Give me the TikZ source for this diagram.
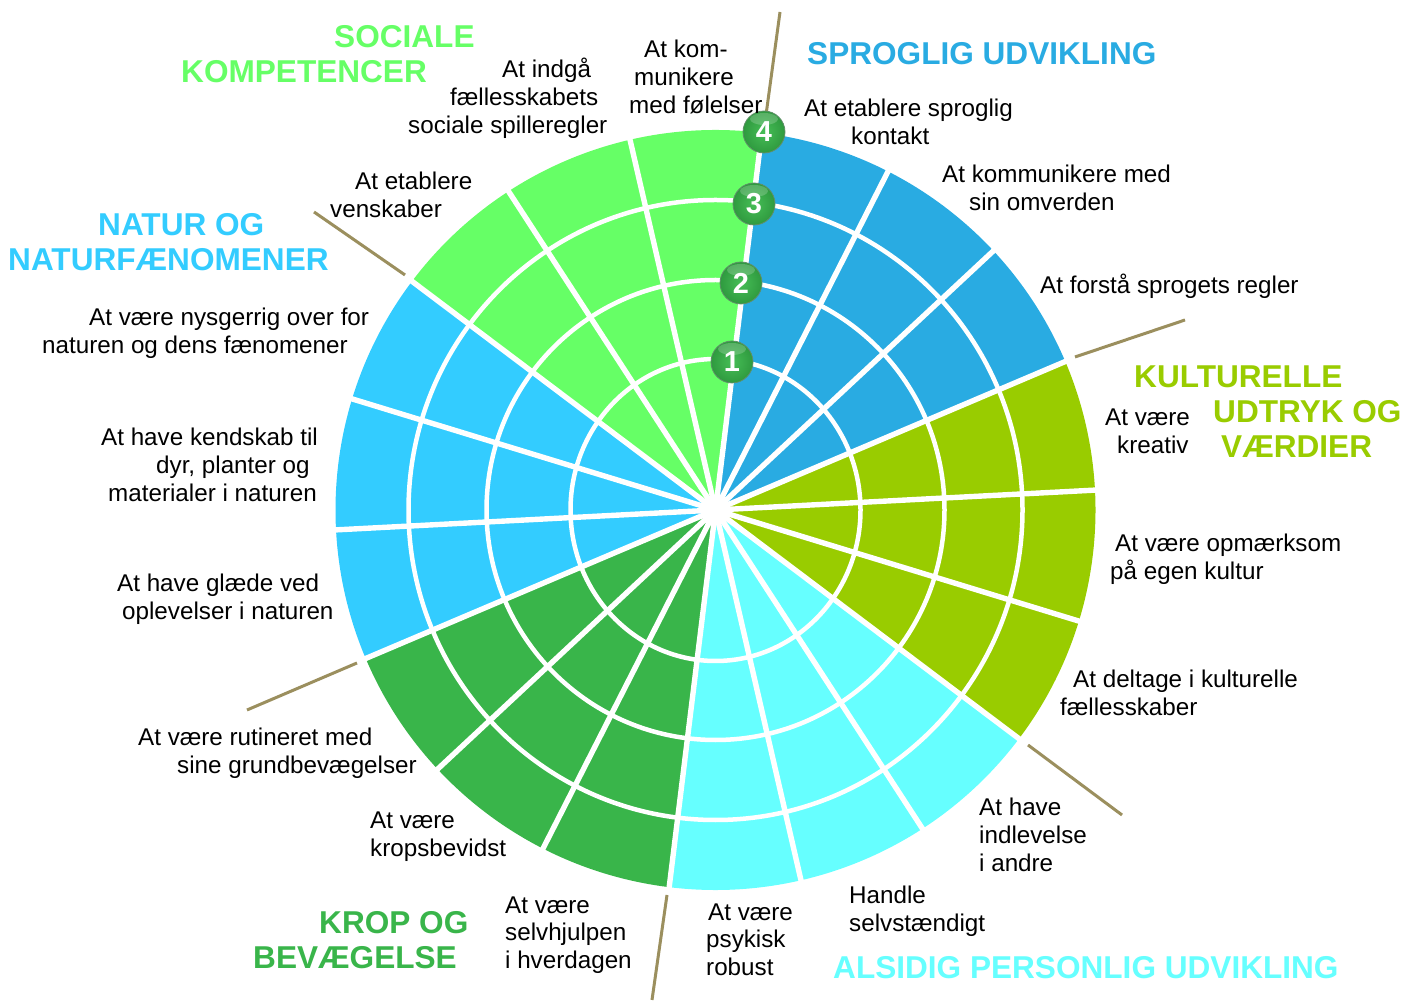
\documentclass[tikz,border=0pt]{standalone}
\usepackage{fontspec}
\setmainfont{Liberation Sans}
\definecolor{cblue}{HTML}{29ABE2}
\definecolor{colive}{HTML}{99CC00}
\definecolor{ccyan}{HTML}{66FFFF}
\definecolor{cdark}{HTML}{39B54A}
\definecolor{csky}{HTML}{33CCFF}
\definecolor{clight}{HTML}{66FF66}
\definecolor{ctick}{HTML}{9B8F5E}
\definecolor{ballmid}{HTML}{46BE56}
\definecolor{ballrim}{HTML}{2F9A3F}
\definecolor{balledge}{HTML}{5F8F68}
\newcommand{\I}[1]{\hspace*{#1bp}}
\newcommand{\wedgepart}[3]{\fill[#1] (0,0) -- (#2:380) arc[start angle=#2,end angle=#3,radius=380] -- cycle;}
\tikzset{
  lab/.style={anchor=base west,inner sep=0pt,align=left,text=black,font=\fontsize{24.3}{28.1}\selectfont},
  head/.style={anchor=base west,inner sep=0pt,align=left,font=\fontsize{31.7}{35.3}\selectfont\bfseries},
  spoke/.style={draw=white,line width=5.4bp},
  ring/.style={draw=white,line width=4.5bp},
  tick/.style={draw=ctick,line width=3bp},
  ball/.style={circle,minimum size=42bp,inner sep=0pt,text=white,font=\fontsize{29}{29}\selectfont\bfseries,
    inner color=ballmid,outer color=ballrim,draw=balledge,line width=.8bp,
    path picture={\fill[white,opacity=.2] ([yshift=-8bp]path picture bounding box.north) ellipse[x radius=14bp,y radius=6bp];}},
}
\begin{document}
\begin{tikzpicture}[x=1bp,y=1bp]
\useasboundingbox (0,0) rectangle (1418,1001);
\begin{scope}[shift={(715.5,491)}]
  \wedgepart{cblue}{83}{23}
  \wedgepart{colive}{23}{-37}
  \wedgepart{ccyan}{-37}{-97}
  \wedgepart{cdark}{-97}{-157}
  \wedgepart{csky}{-157}{-217}
  \wedgepart{clight}{-217}{-277}
  \foreach \rx/\ry in {145/151,229/230,307/310} \draw[ring] (0,0) ellipse[x radius=\rx,y radius=\ry];
  \foreach \a in {83,63,...,-257}
    \draw[spoke] (0,0) -- (\a:383);
  \fill[white] (0,0) circle[radius=15];
\end{scope}
\begin{scope}[y=-1bp,yshift=1001bp]
  \coordinate (t1a) at (780,12);  \coordinate (t1b) at (766,115);
  \coordinate (t2a) at (1185,320);\coordinate (t2b) at (1075,357);
  \coordinate (t3a) at (1122,815);\coordinate (t3b) at (1028,745);
  \coordinate (t4a) at (652,1000);\coordinate (t4b) at (667,895);
  \coordinate (t5a) at (247,710); \coordinate (t5b) at (357,663);
  \coordinate (t6a) at (314,212); \coordinate (t6b) at (405,275);
  \foreach \n in {1,...,6} \draw[tick] (t\n a) -- (t\n b);

  \node[ball] (b4) at (764,132) {4};
  \node[ball] (b3) at (754,204) {3};
  \node[ball] (b2) at (741,283) {2};
  \node[ball] (b1) at (732,362) {1};

  \node[head,text=clight] (h1) at (181,83) {\I{153}SOCIALE\\KOMPETENCER};
  \node[head,text=cblue] (h2) at (807,65) {SPROGLIG UDVIKLING};
  \node[head,text=csky] (h3) at (8,271) {\I{90}NATUR OG\\NATURFÆNOMENER};
  \node[head,text=colive] (h4) at (1134,458) {KULTURELLE\\\I{79}UDTRYK OG\\\I{87}VÆRDIER};
  \node[head,text=cdark] (h5) at (253,969) {\I{66}KROP OG\\BEVÆGELSE};
  \node[head,text=ccyan] (h6) at (833,979) {ALSIDIG PERSONLIG UDVIKLING};

  \node[lab] (l1) at (629,114) {\I{15}At kom-\\\I{5}munikere\\med følelser};
  \node[lab] (l2) at (408,134) {\I{94}At indgå\\\I{42}fællesskabets\\sociale spilleregler};
  \node[lab] (l3) at (330,218) {\I{25}At etablere\\venskaber};
  \node[lab] (l4) at (804,145) {At etablere sproglig\\\I{47}kontakt};
  \node[lab] (l5) at (942,211) {At kommunikere med\\\I{27}sin omverden};
  \node[lab] (l6) at (1040,294) {At forstå sprogets regler};
  \node[lab] (l7) at (1105,454) {At være\\\I{12}kreativ};
  \node[lab] (l8) at (1110,580) {\I{5}At være opmærksom\\på egen kultur};
  \node[lab] (l9) at (1060,716) {\I{13}At deltage i kulturelle\\fællesskaber};
  \node[lab] (l10) at (979,872) {At have\\indlevelse\\i andre};
  \node[lab] (l11) at (849,932) {Handle\\selvstændigt};
  \node[lab] (l12) at (706,976) {\I{2}At være\\psykisk\\robust};
  \node[lab] (l13) at (505,969) {At være\\selvhjulpen\\i hverdagen};
  \node[lab] (l14) at (370,857) {At være\\kropsbevidst};
  \node[lab] (l15) at (138,774) {At være rutineret med\\\I{39}sine grundbevægelser};
  \node[lab] (l16) at (117,620) {At have glæde ved\\\I{5}oplevelser i naturen};
  \node[lab] (l17) at (101,502) {At have kendskab til\\\I{55}dyr, planter og\\\I{7}materialer i naturen};
  \node[lab] (l18) at (42,354) {\I{47}At være nysgerrig over for\\naturen og dens fænomener};
\end{scope}
\end{tikzpicture}
\end{document}
